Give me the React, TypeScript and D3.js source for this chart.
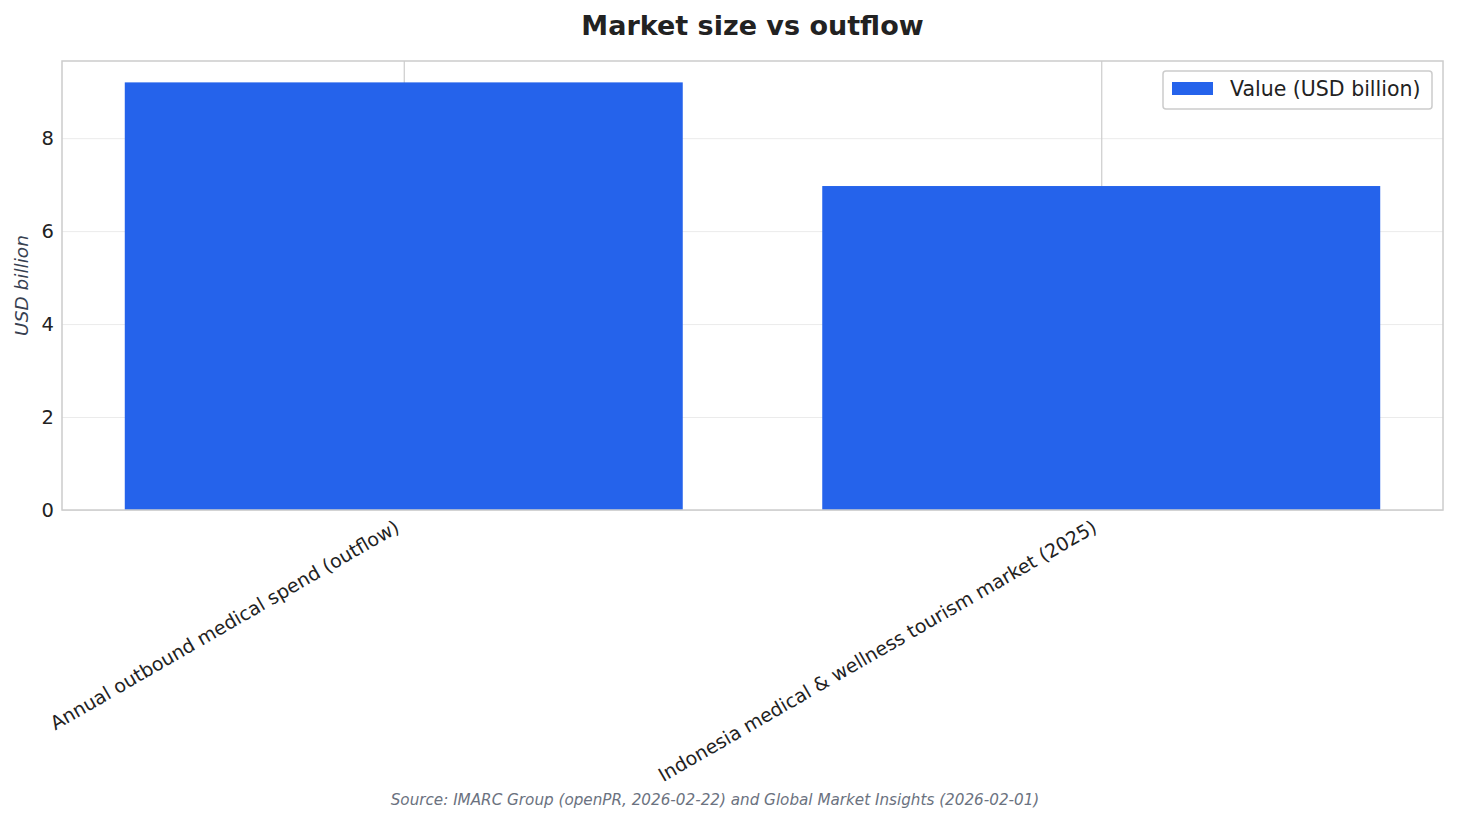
import { useEffect, useRef } from 'react';
import * as d3 from 'd3';

const categories = [
  'Annual outbound medical spend (outflow)',
  'Indonesia medical & wellness tourism market (2025)',
];
const values = [9.2, 6.97];
const yTicks = [0, 2, 4, 6, 8];
const seriesLabel = 'Value (USD billion)';

export default function App() {
  const ref = useRef<SVGSVGElement>(null);

  useEffect(() => {
    document.body.style.margin = '0';
    const svg = d3.select(ref.current);
    svg.selectAll('*').remove();

    const W = 1457, H = 824;
    const margin = { top: 61, right: 14, bottom: 314, left: 62 };
    const w = W - margin.left - margin.right;
    const h = H - margin.top - margin.bottom;
    const font = 'DejaVu Sans, sans-serif';
    const barColor = '#2563eb';

    const x = d3.scaleLinear().domain([-0.49, 1.49]).range([0, w]);
    const y = d3.scaleLinear().domain([0, d3.max(values)! * 1.05]).range([h, 0]);
    const bw = x(0.4) - x(0);

    const g = svg.append('g').attr('transform', `translate(${margin.left},${margin.top})`);

    // horizontal grid
    g.append('g')
      .call(d3.axisLeft(y).tickValues(yTicks).tickSize(-w).tickFormat('' as never))
      .call(gg => gg.select('.domain').remove())
      .call(gg => gg.selectAll('line').attr('stroke', '#ebebeb').attr('stroke-width', 1));

    // vertical grid at categories
    g.append('g')
      .call(d3.axisBottom(x).tickValues([0, 1]).tickSize(h).tickFormat('' as never))
      .call(gg => gg.select('.domain').remove())
      .call(gg => gg.selectAll('line').attr('stroke', '#cccccc').attr('stroke-width', 1.2));

    g.selectAll('.bar').data(values).enter().append('rect')
      .attr('x', (_, i) => x(i) - bw).attr('width', bw * 2)
      .attr('y', d => y(d)).attr('height', d => h - y(d))
      .attr('fill', barColor);

    // spines
    g.append('rect').attr('width', w).attr('height', h)
      .attr('fill', 'none').attr('stroke', '#cccccc').attr('stroke-width', 1.5);

    // y tick labels
    g.append('g')
      .call(d3.axisLeft(y).tickValues(yTicks).tickSize(0).tickPadding(8).tickFormat(d3.format('d')))
      .call(gg => gg.select('.domain').remove())
      .call(gg => gg.selectAll('text').attr('fill', '#222').attr('font-size', 19.5).attr('font-family', font));

    // x tick labels rotated
    categories.forEach((c, i) => {
      g.append('text')
        .attr('transform', `translate(${x(i) - 3},${h + 21}) rotate(-30)`)
        .attr('text-anchor', 'end')
        .attr('font-family', font).attr('font-size', 19).attr('fill', '#222')
        .text(c);
    });

    g.append('text')
      .attr('transform', `translate(${-34},${h / 2}) rotate(-90)`)
      .attr('text-anchor', 'middle')
      .attr('font-family', font).attr('font-size', 18.5).attr('font-style', 'italic').attr('fill', '#374151')
      .text('USD billion');

    svg.append('text')
      .attr('x', margin.left + w / 2).attr('y', 35)
      .attr('text-anchor', 'middle')
      .attr('font-family', font).attr('font-size', 27).attr('font-weight', 'bold').attr('fill', '#222')
      .text('Market size vs outflow');

    svg.append('text')
      .attr('x', 715).attr('y', 805)
      .attr('text-anchor', 'middle')
      .attr('font-family', font).attr('font-size', 15.2).attr('font-style', 'italic').attr('fill', '#6b7280')
      .text('Source: IMARC Group (openPR, 2026-02-22) and Global Market Insights (2026-02-01)');

    // legend
    const lg = svg.append('g').attr('transform', `translate(1163,71)`);
    lg.append('rect').attr('width', 269).attr('height', 38).attr('rx', 3)
      .attr('fill', 'white').attr('stroke', '#cccccc').attr('stroke-width', 1.5);
    lg.append('rect').attr('x', 9).attr('y', 11).attr('width', 41).attr('height', 13).attr('fill', barColor);
    lg.append('text').attr('x', 67).attr('y', 25)
      .attr('font-family', font).attr('font-size', 20.5).attr('fill', '#222')
      .text(seriesLabel);
  }, []);

  return <svg ref={ref} width={1457} height={824} style={{ display: 'block', background: 'white' }} />;
}
